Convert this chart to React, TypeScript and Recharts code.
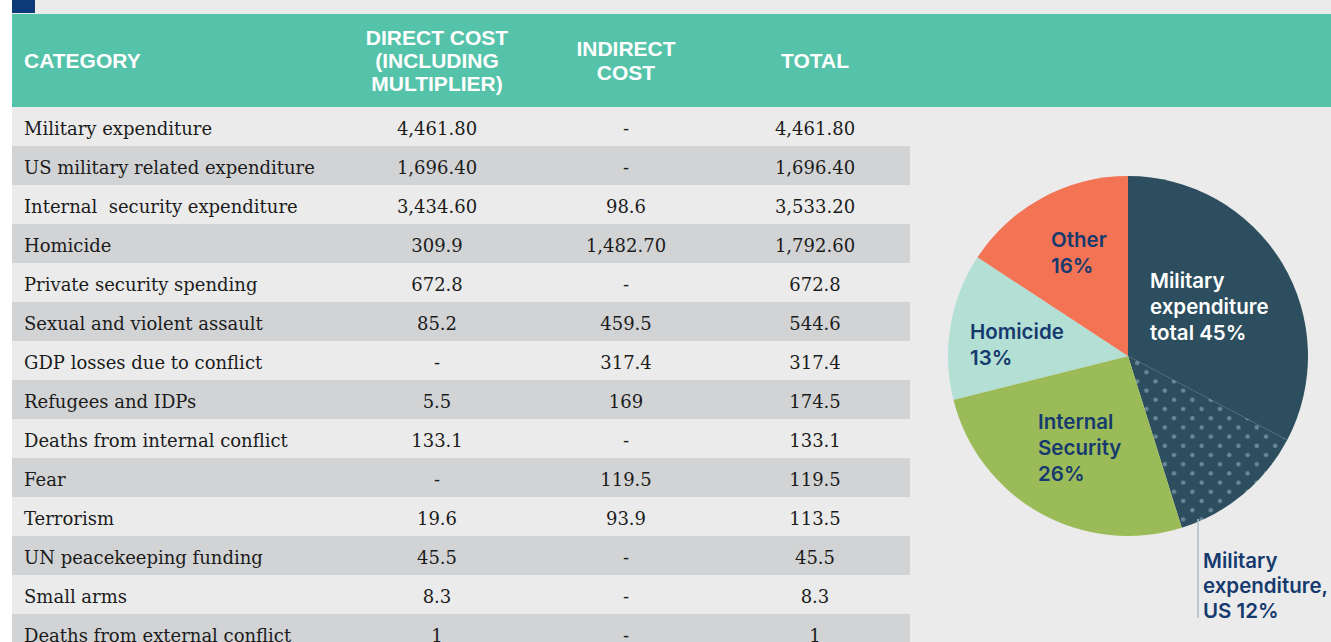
import React from 'react';
import { PieChart, Pie, Cell } from 'recharts';

const categories = [
  'Military expenditure',
  'US military related expenditure',
  'Internal  security expenditure',
  'Homicide',
  'Private security spending',
  'Sexual and violent assault',
  'GDP losses due to conflict',
  'Refugees and IDPs',
  'Deaths from internal conflict',
  'Fear',
  'Terrorism',
  'UN peacekeeping funding',
  'Small arms',
  'Deaths from external conflict',
];
const directCost = ['4,461.80', '1,696.40', '3,434.60', '309.9', '672.8', '85.2', '-', '5.5', '133.1', '-', '19.6', '45.5', '8.3', '1'];
const indirectCost = ['-', '-', '98.6', '1,482.70', '-', '459.5', '317.4', '169', '-', '119.5', '93.9', '-', '-', '-'];
const totalCost = ['4,461.80', '1,696.40', '3,533.20', '1,792.60', '672.8', '544.6', '317.4', '174.5', '133.1', '119.5', '113.5', '45.5', '8.3', '1'];

const headerLabels = [['CATEGORY'], ['DIRECT COST', '(INCLUDING', 'MULTIPLIER)'], ['INDIRECT', 'COST'], ['TOTAL']];

const pieNames = ['Military expenditure total', 'Military expenditure, US', 'Internal Security', 'Homicide', 'Other'];
const pieValues = [4461.8, 1696.4, 3533.2, 1792.6, 2149.2];
const pieLabelLines = [
  ['Military', 'expenditure', 'total 45%'],
  ['Military', 'expenditure,', 'US 12%'],
  ['Internal', 'Security', '26%'],
  ['Homicide', '13%'],
  ['Other', '16%'],
];

const pieData = pieNames.map((name, i) => ({ name, value: pieValues[i] }));

const sliceFills = ['#2d4e5e', 'url(#dotsPattern)', '#9bbb59', '#b3dfd4', '#f37355'];
const labelColors = ['#ffffff', '#163a6e', '#163a6e', '#163a6e', '#163a6e'];
// label layout: offset from pie centre (dx, dy of first line centre, line spacing)
const labelLayout = [
  { dx: 22, dy: -76, lh: 26 },
  { dx: 75, dy: 204, lh: 25 },
  { dx: -90, dy: 65, lh: 26 },
  { dx: -158, dy: -25, lh: 26 },
  { dx: -77, dy: -117, lh: 26 },
];

const COL_CENTERS = [437, 626, 815];
const ROW_TOP = 107;
const ROW_H = 39;

const serif = "'DejaVu Serif', 'Liberation Serif', serif";
const headFont = "'Liberation Sans', Arial, sans-serif";
const pieFont = "Inter, 'Open Sans', sans-serif";

const renderLabel = (props: any) => {
  const { cx, cy, index } = props;
  const lay = labelLayout[index];
  const lines = pieLabelLines[index];
  return (
    <g key={`lbl-${index}`}>
      {index === 1 && (
        <line x1={cx + 70} y1={cy + 163} x2={cx + 70} y2={cy + 262} stroke="#a9c0cc" strokeWidth={1.5} />
      )}
      <text
        x={cx + lay.dx}
        y={cy + lay.dy}
        fill={labelColors[index]}
        fontFamily={pieFont}
        fontSize={20.5}
        fontWeight={600}
        dominantBaseline="central"
        textAnchor="start"
      >
        {lines.map((l, i) => (
          <tspan key={i} x={cx + lay.dx} y={cy + lay.dy + i * lay.lh}>
            {l}
          </tspan>
        ))}
      </text>
    </g>
  );
};

export default function App() {
  return (
    <div
      style={{
        position: 'absolute',
        left: 0,
        top: 0,
        width: 1331,
        height: 642,
        background: '#ffffff',
        overflow: 'hidden',
      }}
    >
      <div style={{ position: 'absolute', left: 12, top: 0, width: 1319, height: 642, background: '#ebebeb' }} />
      <div style={{ position: 'absolute', left: 12, top: 0, width: 23, height: 13, background: '#0c3a78' }} />
      {/* header band */}
      <div style={{ position: 'absolute', left: 12, top: 14, width: 1319, height: 93, background: '#55c2aa' }} />
      <div
        style={{
          position: 'absolute',
          left: 24,
          top: 14,
          height: 93,
          display: 'flex',
          alignItems: 'center',
          color: '#fff',
          fontFamily: headFont,
          fontWeight: 700,
          fontSize: 21,
          lineHeight: '23px',
        }}
      >
        {headerLabels[0][0]}
      </div>
      {headerLabels.slice(1).map((lines, k) => (
        <div
          key={k}
          style={{
            position: 'absolute',
            left: COL_CENTERS[k] - 100,
            width: 200,
            top: 14,
            height: 93,
            display: 'flex',
            flexDirection: 'column',
            justifyContent: 'center',
            alignItems: 'center',
            color: '#fff',
            fontFamily: headFont,
            fontWeight: 700,
            fontSize: 21,
            lineHeight: k === 1 ? '24px' : '23px',
            textAlign: 'center',
          }}
        >
          {lines.map((l, i) => (
            <div key={i}>{l}</div>
          ))}
        </div>
      ))}
      {/* rows */}
      {categories.map((cat, i) => (
        <div
          key={cat}
          style={{
            position: 'absolute',
            left: 12,
            top: ROW_TOP + i * ROW_H,
            width: 898,
            height: ROW_H,
            background: i % 2 === 1 ? '#d2d3d5' : '#ebebeb',
            fontFamily: serif,
            fontSize: 18,
            color: '#1b1b1b',
          }}
        >
          <div style={{ position: 'absolute', left: 12, top: 2, height: ROW_H, lineHeight: `${ROW_H}px`, whiteSpace: 'pre' }}>
            {cat}
          </div>
          {[directCost[i], indirectCost[i], totalCost[i]].map((v, k) => (
            <div
              key={k}
              style={{
                position: 'absolute',
                left: COL_CENTERS[k] - 12 - 80,
                width: 160,
                top: 2,
                height: ROW_H,
                lineHeight: `${ROW_H}px`,
                textAlign: 'center',
              }}
            >
              {v}
            </div>
          ))}
        </div>
      ))}
      {/* pie */}
      <div style={{ position: 'absolute', left: 920, top: 108 }}>
        <PieChart width={411} height={534}>
          <defs>
            <pattern id="dotsPattern" patternUnits="userSpaceOnUse" width={18.4} height={18.4} x={1} y={2}>
              <rect x={0} y={0} width={18.4} height={18.4} fill="#2d4e5e" />
              <circle cx={4.6} cy={4.6} r={2.2} fill="#6b8a98" />
              <circle cx={13.8} cy={13.8} r={2.2} fill="#6b8a98" />
            </pattern>
          </defs>
          <Pie
            data={pieData}
            dataKey="value"
            nameKey="name"
            cx={203}
            cy={243}
            outerRadius={180}
            startAngle={90}
            endAngle={-270}
            stroke="none"
            labelLine={false}
            label={renderLabel}
            isAnimationActive={false}
          >
            {pieData.map((d, i) => (
              <Cell key={d.name} fill={sliceFills[i]} />
            ))}
          </Pie>
        </PieChart>
      </div>
    </div>
  );
}
